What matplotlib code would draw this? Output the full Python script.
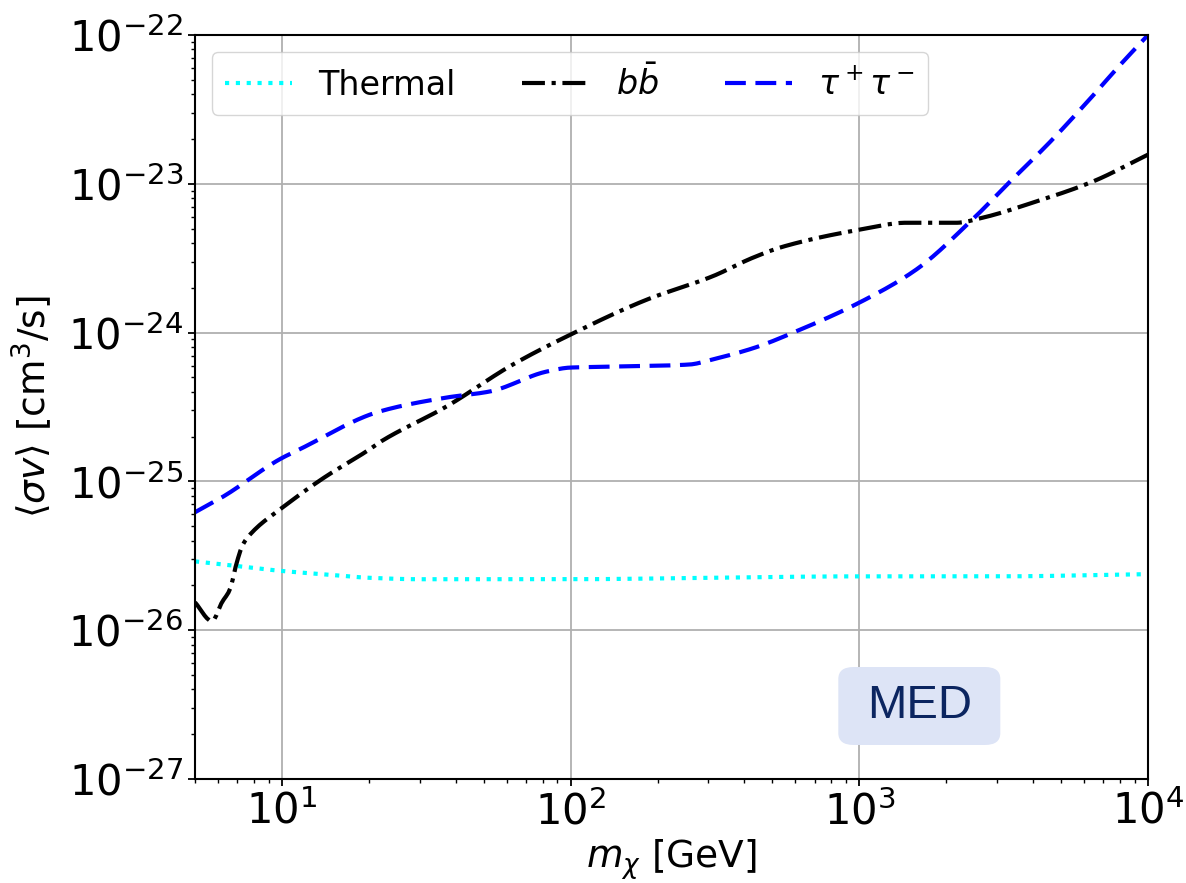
import numpy as np
import matplotlib
matplotlib.use("Agg")
import matplotlib.pyplot as plt
from matplotlib.patches import FancyBboxPatch

# Dark-matter mass grid points [GeV] and annihilation cross-section limits [cm^3/s]
thermal_mass = [5, 7, 10, 15, 20, 30, 50, 100, 300, 1000, 3000, 10000]
thermal_sv = [2.9e-26, 2.7e-26, 2.5e-26, 2.35e-26, 2.25e-26, 2.2e-26, 2.2e-26,
              2.2e-26, 2.25e-26, 2.3e-26, 2.3e-26, 2.38e-26]

bb_mass = [5.0, 5.73, 6.2, 6.61, 6.98, 7.33, 7.94, 9.84, 13.9, 20.1, 21.8, 37.2,
           63.0, 100, 183, 312, 427, 542, 1000, 1455, 2168, 2667, 3972, 6400, 10000]
bb_sv = [1.54e-26, 1.15e-26, 1.54e-26, 1.88e-26, 2.86e-26, 3.77e-26, 4.61e-26,
         6.48e-26, 1.05e-25, 1.64e-25, 1.83e-25, 3.19e-25, 6.09e-25, 9.7e-25,
         1.66e-24, 2.4e-24, 3.18e-24, 3.77e-24, 4.91e-24, 5.47e-24, 5.47e-24,
         5.91e-24, 7.45e-24, 1.03e-23, 1.57e-23]

tautau_mass = [5.0, 6.26, 9.84, 11.5, 21.8, 37.2, 52.5, 82.6, 100, 140, 258, 310,
               433, 605, 1000, 1574, 2460, 3304, 4541, 6247, 7943, 10000]
tautau_sv = [6.2e-26, 7.9e-26, 1.41e-25, 1.64e-25, 2.95e-25, 3.66e-25, 4.02e-25,
             5.47e-25, 5.82e-25, 5.9e-25, 6.1e-25, 6.6e-25, 7.9e-25, 1.02e-24,
             1.59e-24, 2.65e-24, 5.73e-24, 1.02e-23, 1.88e-23, 3.66e-23,
             6.19e-23, 1.0e-22]


def smooth(x, y, n=400):
    """Monotone cubic interpolation in log-log space for a smooth curve."""
    lx, ly = np.log10(x), np.log10(y)
    h = np.diff(lx)
    d = np.diff(ly) / h
    m = np.zeros_like(lx)
    m[0], m[-1] = d[0], d[-1]
    for i in range(1, len(lx) - 1):
        if d[i - 1] * d[i] <= 0:
            m[i] = 0.0
        else:
            w1 = 2 * h[i] + h[i - 1]
            w2 = h[i] + 2 * h[i - 1]
            m[i] = (w1 + w2) / (w1 / d[i - 1] + w2 / d[i])
    xs = np.linspace(lx[0], lx[-1], n)
    idx = np.clip(np.searchsorted(lx, xs) - 1, 0, len(lx) - 2)
    t = (xs - lx[idx]) / h[idx]
    h00 = 2 * t**3 - 3 * t**2 + 1
    h10 = t**3 - 2 * t**2 + t
    h01 = -2 * t**3 + 3 * t**2
    h11 = t**3 - t**2
    ys = (h00 * ly[idx] + h10 * h[idx] * m[idx] + h01 * ly[idx + 1]
          + h11 * h[idx] * m[idx + 1])
    return 10**xs, 10**ys


fig = plt.figure(figsize=(11.86, 8.83), dpi=100)
ax = fig.add_axes([0.1644, 0.1178, 0.8036, 0.8426])

x, y = smooth(thermal_mass, thermal_sv)
ax.plot(x, y, color="cyan", ls=(0, (1, 1.6)), lw=3, label="Thermal")
x, y = smooth(bb_mass, bb_sv)
ax.plot(x, y, color="black", ls=(0, (5.5, 1.6, 1, 1.6)), lw=3, label=r"$b\bar{b}$")
x, y = smooth(tautau_mass, tautau_sv)
ax.plot(x, y, color="blue", ls=(0, (5, 2.3)), lw=3, label=r"$\tau^+\tau^-$")

ax.set_xscale("log")
ax.set_yscale("log")
ax.set_xlim(5, 1e4)
ax.set_ylim(1e-27, 1e-22)
ax.grid(True, which="major", color="#b0b0b0", lw=1.3)
ax.tick_params(axis="both", which="major", labelsize=30, length=5, width=1.3)
ax.tick_params(axis="both", which="minor", length=3, width=1.0)
for sp in ax.spines.values():
    sp.set_linewidth(1.5)

ax.set_xlabel(r"$m_\chi$ [GeV]", fontsize=27, labelpad=3)
ax.set_ylabel(r"$\langle\sigma v\rangle$ [cm$^3$/s]", fontsize=27, labelpad=10)

ax.legend(loc="upper left", ncol=3, fontsize=24, framealpha=0.8)

# Rounded label panel in the lower right
ax.add_patch(FancyBboxPatch((0.675, 0.0457), 0.17, 0.1048,
                            boxstyle="round,pad=0,rounding_size=0.016",
                            transform=ax.transAxes, facecolor="#dde4f6",
                            edgecolor="none", zorder=4))
ax.text(0.760, 0.098, "MED", transform=ax.transAxes, fontsize=34,
        family="Liberation Sans", color="#0b2560", ha="center", va="center",
        zorder=5)

fig.savefig("out.png", dpi=100)
